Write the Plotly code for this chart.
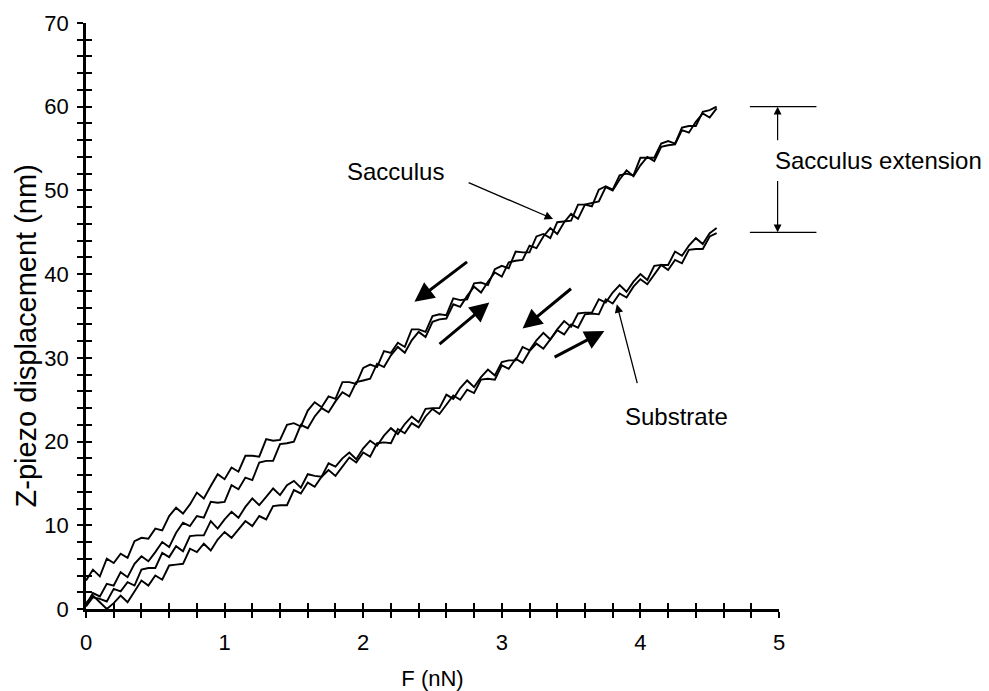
import plotly.graph_objects as go

# ---------------- data ----------------
F_nN = [0.0, 0.05, 0.1, 0.15, 0.2, 0.25, 0.3, 0.35, 0.4, 0.45,
        0.5, 0.55, 0.6, 0.65, 0.7, 0.75, 0.8, 0.85, 0.9, 0.95,
        1.0, 1.05, 1.1, 1.15, 1.2, 1.25, 1.3, 1.35, 1.4, 1.45,
        1.5, 1.55, 1.6, 1.65, 1.7, 1.75, 1.8, 1.85, 1.9, 1.95,
        2.0, 2.05, 2.1, 2.15, 2.2, 2.25, 2.3, 2.35, 2.4, 2.45,
        2.5, 2.55, 2.6, 2.65, 2.7, 2.75, 2.8, 2.85, 2.9, 2.95,
        3.0, 3.05, 3.1, 3.15, 3.2, 3.25, 3.3, 3.35, 3.4, 3.45,
        3.5, 3.55, 3.6, 3.65, 3.7, 3.75, 3.8, 3.85, 3.9, 3.95,
        4.0, 4.05, 4.1, 4.15, 4.2, 4.25, 4.3, 4.35, 4.4, 4.45,
        4.5, 4.55]

sacculus_retract = [3.4, 4.7, 3.9, 6.0, 5.5, 6.6, 6.1, 8.1, 8.5, 8.4,
                    9.6, 9.4, 11.1, 12.1, 11.4, 12.5, 13.9, 13.2, 14.7, 16.1,
                    15.5, 16.9, 16.4, 18.3, 18.3, 18.2, 20.3, 20.1, 20.2, 22.0,
                    22.2, 21.8, 23.7, 24.7, 24.1, 25.4, 25.1, 27.1, 27.1, 26.9,
                    28.8, 29.2, 28.9, 30.8, 30.6, 31.8, 31.3, 33.4, 33.4, 33.1,
                    35.0, 35.2, 35.1, 37.1, 36.9, 37.0, 38.9, 39.0, 38.7, 40.6,
                    41.0, 40.7, 42.7, 42.6, 42.6, 44.5, 44.8, 44.3, 46.2, 46.3,
                    46.4, 48.3, 48.3, 48.1, 50.1, 50.5, 50.1, 51.8, 52.0, 51.8,
                    53.9, 53.9, 53.9, 55.6, 55.9, 55.6, 57.5, 57.7, 57.7, 59.4,
                    59.6, 60.0]

sacculus_approach = [0.5, 1.9, 1.5, 3.0, 2.8, 4.4, 3.8, 5.4, 6.3, 5.7,
                     6.8, 8.0, 7.4, 9.1, 10.3, 9.9, 11.1, 10.9, 12.8, 12.7,
                     12.8, 14.8, 14.3, 15.7, 15.4, 17.5, 17.7, 17.7, 19.7, 19.8,
                     20.0, 22.0, 21.6, 23.0, 24.0, 23.5, 24.8, 25.9, 25.4, 27.1,
                     27.3, 27.5, 29.3, 28.9, 30.3, 31.3, 30.6, 32.1, 33.1, 32.5,
                     34.3, 34.6, 34.7, 36.4, 36.1, 37.4, 38.5, 37.8, 39.1, 40.2,
                     39.7, 41.4, 41.6, 41.7, 43.4, 43.1, 44.5, 45.5, 44.8, 46.2,
                     47.2, 46.6, 48.3, 48.5, 48.7, 50.4, 50.0, 51.3, 52.4, 51.7,
                     53.0, 54.0, 53.5, 55.2, 55.4, 55.5, 57.2, 56.9, 58.2, 59.2,
                     58.7, 59.8]

substrate_retract = [0.3, 1.4, 1.2, 0.9, 2.4, 2.1, 3.2, 2.8, 4.7, 4.9,
                     4.9, 6.7, 6.2, 7.5, 6.9, 8.7, 8.8, 8.8, 10.5, 9.6,
                     10.7, 11.6, 10.9, 12.2, 13.2, 12.4, 13.4, 14.4, 13.6, 14.8,
                     15.3, 14.5, 16.1, 15.9, 15.8, 17.4, 17.0, 18.0, 18.7, 17.9,
                     19.2, 20.1, 19.5, 20.7, 21.6, 20.9, 22.1, 23.0, 22.3, 23.9,
                     24.0, 24.0, 25.6, 25.1, 26.4, 27.3, 26.5, 27.7, 28.6, 27.9,
                     29.5, 29.7, 29.7, 31.3, 30.9, 32.1, 33.0, 32.2, 33.4, 34.4,
                     33.7, 35.3, 35.4, 35.4, 37.0, 36.6, 37.8, 38.7, 37.9, 39.1,
                     40.0, 39.3, 41.0, 41.1, 41.1, 42.7, 42.2, 43.4, 44.3, 43.6,
                     44.9, 45.5]

substrate_approach = [0.7, 1.6, 0.8, 0.0, 0.7, 1.6, 0.8, 2.1, 3.4, 2.8,
                      4.0, 3.5, 5.2, 5.3, 5.4, 7.2, 6.8, 7.8, 7.0, 8.3,
                      9.2, 8.5, 9.5, 10.5, 9.9, 11.1, 10.7, 12.3, 12.4, 12.4,
                      14.2, 13.8, 15.1, 14.6, 15.8, 16.6, 15.9, 17.0, 18.1, 17.5,
                      18.7, 18.2, 19.8, 19.9, 19.8, 21.5, 21.0, 22.2, 21.7, 23.0,
                      23.9, 23.3, 24.4, 25.5, 25.0, 26.2, 25.8, 27.4, 27.5, 27.4,
                      29.1, 28.7, 29.9, 29.4, 30.8, 31.7, 31.1, 32.2, 33.3, 32.8,
                      34.0, 33.6, 35.2, 35.3, 35.2, 37.0, 36.5, 37.7, 37.2, 38.5,
                      39.4, 38.8, 40.0, 41.1, 40.5, 41.7, 41.3, 42.9, 43.0, 43.0,
                      44.5, 44.9]

x_tick_vals = [0, 1, 2, 3, 4, 5]
x_tick_text = ["0", "1", "2", "3", "4", "5"]
y_tick_vals = [0, 10, 20, 30, 40, 50, 60, 70]
y_tick_text = ["0", "10", "20", "30", "40", "50", "60", "70"]

sacculus_top = 60
substrate_top = 45

# ---------------- figure ----------------
X_RANGE = [0, 5]
Y_RANGE = [0, 70]
FONT = "Liberation Sans, Arial, sans-serif"

fig = go.Figure()
for ys in [sacculus_retract, sacculus_approach, substrate_retract, substrate_approach]:
    fig.add_trace(go.Scatter(x=F_nN, y=ys, mode="lines",
                             line=dict(color="black", width=1.9),
                             showlegend=False, hoverinfo="skip"))

# dummy trace so that the overlay axes (inner half of ticks) are drawn
fig.add_trace(go.Scatter(x=[None], y=[None], xaxis="x2", yaxis="y2",
                         showlegend=False, hoverinfo="skip"))

tickstyle = dict(ticklen=6, tickwidth=2.2, tickcolor="black")

# the page body adds an 8 px margin, so the figure is 8 px smaller than the window
fig.update_layout(
    width=981, height=683,
    margin=dict(l=78, r=210, t=15, b=82, autoexpand=False),
    paper_bgcolor="white", plot_bgcolor="white",
    font=dict(family=FONT, color="black", size=20),
    xaxis=dict(range=X_RANGE, showline=True, linecolor="black", linewidth=2.8,
               showgrid=False, zeroline=False, automargin=False,
               tickmode="array", tickvals=x_tick_vals, ticktext=x_tick_text,
               ticks="outside", **tickstyle,
               minor=dict(dtick=0.2, tick0=0, ticks="outside", **tickstyle),
               tickfont=dict(size=22), ticklabelstandoff=6,
               title=dict(text="F (nN)", font=dict(size=22), standoff=20)),
    yaxis=dict(range=Y_RANGE, showline=True, linecolor="black", linewidth=2.8,
               showgrid=False, zeroline=False, automargin=False,
               tickmode="array", tickvals=y_tick_vals, ticktext=y_tick_text,
               ticks="outside", **tickstyle,
               minor=dict(dtick=2, tick0=0, ticks="outside", **tickstyle),
               tickfont=dict(size=22), ticklabelstandoff=4),
    xaxis2=dict(range=X_RANGE, overlaying="x", anchor="y2", side="bottom",
                showline=False, showgrid=False, zeroline=False, automargin=False,
                showticklabels=False, ticks="inside", dtick=0.2, tick0=0, **tickstyle),
    yaxis2=dict(range=Y_RANGE, overlaying="y", anchor="x2", side="left",
                showline=False, showgrid=False, zeroline=False, automargin=False,
                showticklabels=False, ticks="inside", dtick=2, tick0=0, **tickstyle),
)


def px(F):
    return (F - X_RANGE[0]) / (X_RANGE[1] - X_RANGE[0])


def py(z):
    return (z - Y_RANGE[0]) / (Y_RANGE[1] - Y_RANGE[0])


# y axis title (placed as rotated text, slightly below the axis centre as in the original)
fig.add_annotation(x=-0.086, y=32.6, xref="paper", yref="y", textangle=-90,
                   text="Z-piezo displacement (nm)", showarrow=False,
                   xanchor="center", yanchor="middle", font=dict(size=29),
                   borderpad=0)

# labels
fig.add_annotation(x=2.23, y=52.3, xref="x", yref="y", text="Sacculus",
                   showarrow=False, font=dict(size=24))
fig.add_annotation(x=3.37, y=46.6, ax=2.75, ay=51.0, xref="x", yref="y",
                   axref="x", ayref="y", text="", showarrow=True,
                   arrowhead=2, arrowsize=1.3, arrowwidth=1.3, arrowcolor="black")
fig.add_annotation(x=4.26, y=23.0, xref="x", yref="y", text="Substrate",
                   showarrow=False, font=dict(size=24))
fig.add_annotation(x=3.83, y=36.4, ax=3.98, ay=26.8, xref="x", yref="y",
                   axref="x", ayref="y", text="", showarrow=True,
                   arrowhead=2, arrowsize=1.3, arrowwidth=1.3, arrowcolor="black")

# direction arrows
for tip, tail in [((2.37, 36.7), (2.76, 41.6)),
                  ((2.91, 36.6), (2.54, 31.5)),
                  ((3.15, 33.5), (3.51, 38.4)),
                  ((3.74, 33.2), (3.37, 30.0))]:
    fig.add_annotation(x=tip[0], y=tip[1], ax=tail[0], ay=tail[1],
                       xref="x", yref="y", axref="x", ayref="y", text="",
                       showarrow=True, arrowhead=2, arrowsize=1.3,
                       arrowwidth=3, arrowcolor="black")

# Sacculus extension marker
for level in [sacculus_top, substrate_top]:
    fig.add_shape(type="line", xref="paper", yref="paper",
                  x0=px(4.79), x1=px(5.27), y0=py(level), y1=py(level),
                  line=dict(color="black", width=1.2))
fig.add_annotation(x=4.99, y=sacculus_top, ax=4.99, ay=55.8, xref="x", yref="y",
                   axref="x", ayref="y", text="", showarrow=True,
                   arrowhead=2, arrowsize=1.3, arrowwidth=1.2, arrowcolor="black")
fig.add_annotation(x=4.99, y=substrate_top, ax=4.99, ay=51.3, xref="x", yref="y",
                   axref="x", ayref="y", text="", showarrow=True,
                   arrowhead=2, arrowsize=1.3, arrowwidth=1.2, arrowcolor="black")
fig.add_annotation(x=px(4.955), y=py(53.6), xref="paper", yref="paper",
                   xanchor="left", yanchor="middle", text="Sacculus extension",
                   showarrow=False, font=dict(size=24))

fig.write_html("out.html")
